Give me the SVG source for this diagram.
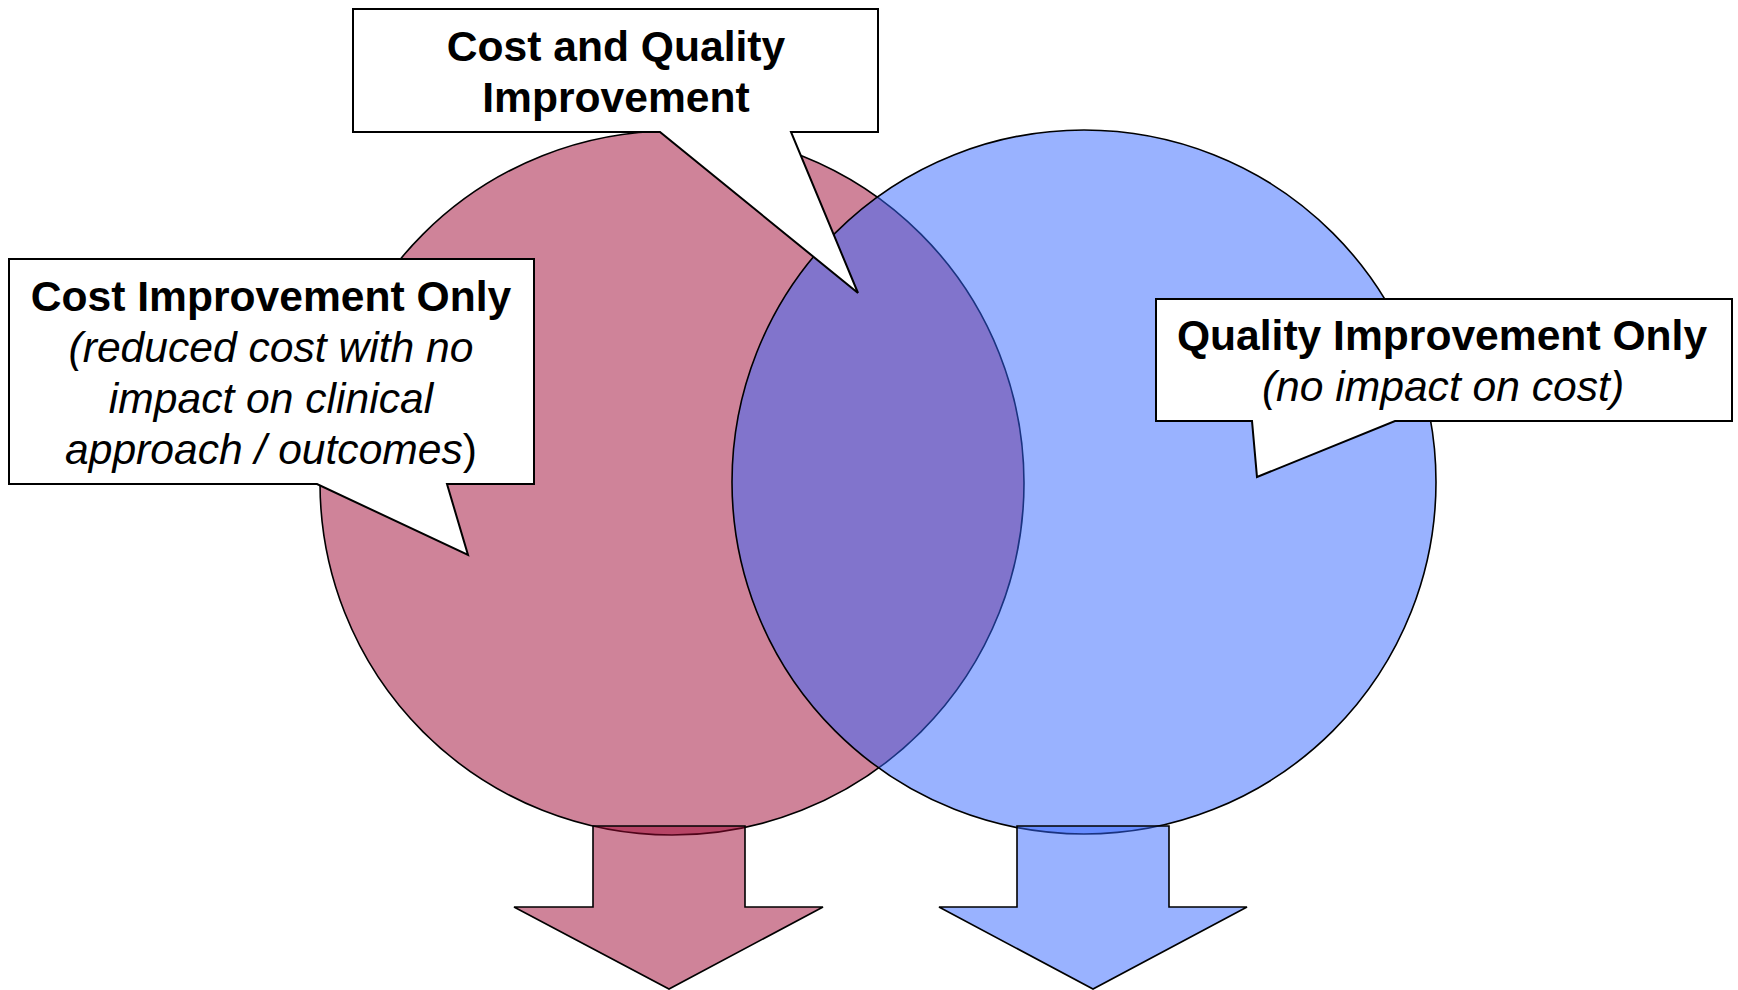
<svg xmlns="http://www.w3.org/2000/svg" width="1738" height="990" viewBox="0 0 1738 990">
<style>
.red{fill:#9F0733;fill-opacity:0.5;stroke:#000;stroke-width:1.6}
.blue{fill:#3366FF;fill-opacity:0.5;stroke:#000;stroke-width:1.6}
.call{fill:#fff;stroke:#000;stroke-width:2;stroke-linejoin:miter}
text{font-family:"Liberation Sans",Arial,sans-serif;font-size:42.6px;fill:#000;text-anchor:middle}
.b{font-weight:bold}
.i{font-style:italic}
</style>
<rect width="1738" height="990" fill="#fff"/>
<g id="circle-cost"><circle class="red" cx="672" cy="483" r="352"/></g>
<g id="circle-quality"><circle class="blue" cx="1084" cy="482" r="352"/></g>
<g id="connectors">
<path id="arrow-cost" class="red" d="M593,826 H745 V907 H823 L669,989 L514,907 H593 Z"/>
<path id="arrow-quality" class="blue" d="M1017,826 H1169 V907 H1247 L1093,989 L939,907 H1017 Z"/>
</g>
<g id="callout-both">
<path class="call" d="M353,9 H878 V132 H791 L858,293 L660,132 H353 Z"/>
<text class="b" x="616" y="61">Cost and Quality</text>
<text class="b" x="616" y="112">Improvement</text>
</g>
<g id="callout-cost">
<path class="call" d="M9,259 H534 V484 H447 L468,555 L317,484 H9 Z"/>
<text class="b" x="271" y="311">Cost Improvement Only</text>
<text class="i" x="271" y="362">(reduced cost with no</text>
<text class="i" x="271" y="413">impact on clinical</text>
<text x="271" y="464"><tspan class="i">approach / outcomes</tspan>)</text>
</g>
<g id="callout-quality">
<path class="call" d="M1156,299 H1732 V421 H1395 L1257,477 L1252,421 H1156 Z"/>
<text class="b" x="1442" y="350">Quality Improvement Only</text>
<text class="i" x="1443" y="401">(no impact on cost)</text>
</g>
</svg>
